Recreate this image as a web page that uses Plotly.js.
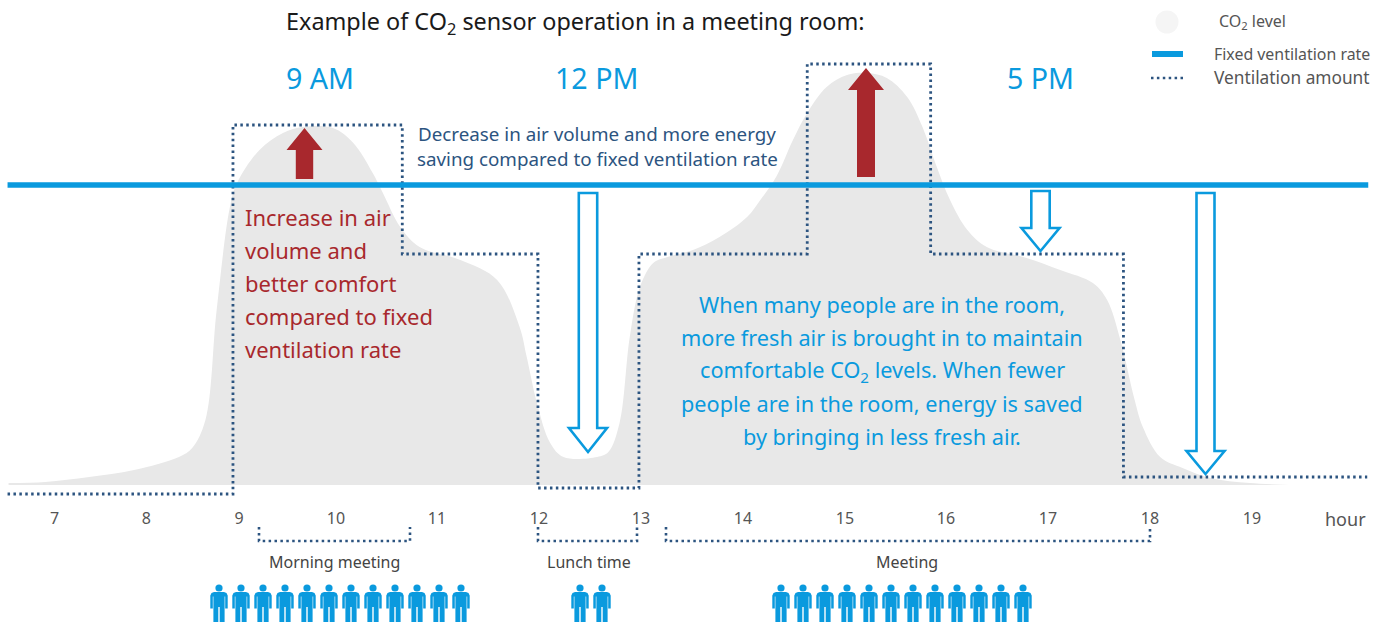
<!DOCTYPE html>
<html>
<head>
<meta charset="utf-8">
<script src="https://cdn.plot.ly/plotly-3.0.1.min.js"></script>
<style>html,body{margin:0;padding:0;background:#fff;overflow:hidden}#chart{width:1386px;height:622px}</style>
</head>
<body>
<div id="chart"></div>
<script>
// CO2 level curve
const co2Hours = [6.79,7.15,7.58,8.02,8.46,8.59,8.72,8.83,8.96,9.03,9.25,9.48,9.68,9.97,10.17,10.36,10.46,10.63,10.82,11.22,11.58,11.80,11.87,11.97,12.10,12.23,12.56,12.67,12.78,12.88,12.98,13.11,13.25,13.50,13.76,14.03,14.16,14.32,14.48,14.62,14.81,15.01,15.21,15.40,15.60,15.75,15.89,16.02,16.19,16.38,16.77,17.10,17.42,17.56,17.69,17.83,17.91,18.08,18.30,18.57,18.96,19.42];
const co2Level = [2,3,8,15,28,37,65,175,278,302,335,352,358,357,342,312,292,258,238,225,205,158,128,82,42,28,28,33,62,148,198,222,228,235,248,268,285,309,345,372,398,410,412,407,388,358,318,285,255,238,227,215,202,185,145,85,58,28,17,7,2,0];
// Ventilation amount (stepped)
const ventHours = [6.78,8.99,10.65,11.98,12.97,14.62,15.83,17.72,20.11];
const ventLevel = [-9,360,231,-3,231,421,231,8,8];
// Fixed ventilation rate
const fixedHours = [6.78,20.12];
const fixedLevel = [300,300];
// Axis
const tickPositions = [7.24,8.14,9.05,10.0,10.99,11.99,12.99,13.99,14.99,15.98,16.98,17.98,18.98];
const tickLabels = ['7','8','9','10','11','12','13','14','15','16','17','18','19'];
// Occupancy
const periodNames = ['Morning meeting','Lunch time','Meeting'];
const periodPeople = [12,2,12];
// Text
const titleText = 'Example of CO<sub>2</sub> sensor operation in a meeting room:';
const clockLabels = ['9 AM','12 PM','5 PM'];
const savingLines = ['Decrease in air volume and more energy','saving compared to fixed ventilation rate'];
const comfortLines = ['Increase in air','volume and','better comfort','compared to fixed','ventilation rate'];
const noteLines = ['When many people are in the room,','more fresh air is brought in to maintain','comfortable CO<sub>2</sub> levels. When fewer','people are in the room, energy is saved','by bringing in less fresh air.'];
const legendLabels = ['CO<sub>2</sub> level','Fixed ventilation rate','Ventilation amount'];

const FONT = '"Noto Sans", sans-serif';
const BLUE = '#0a9ade', NAVY = '#2c5480', RED = '#a8282d', GREY = '#e8e8e8';
const W = 1386, H = 622;
const px = v => v / W, py = v => 1 - v / H;
const DOT = '2.5px,3.4px';

const traces = [
  {x: co2Hours, y: co2Level, mode: 'lines', line: {shape: 'spline', smoothing: 1, width: 0}, fill: 'tozeroy', fillcolor: GREY, hoverinfo: 'skip'},
  {x: ventHours, y: ventLevel, mode: 'lines', line: {shape: 'hv', color: NAVY, width: 2.8, dash: DOT}, hoverinfo: 'skip'},
  {x: fixedHours, y: fixedLevel, mode: 'lines', line: {color: BLUE, width: 5.5}, hoverinfo: 'skip'}
];

const note = (text, x, y, size, color, anchor) => ({
  text, xref: 'paper', yref: 'paper', x: px(x), y: py(y), xanchor: anchor || 'center', yanchor: 'middle',
  showarrow: false, font: {family: FONT, size, color}
});
const annotations = [
  note(titleText, 284, 23, 23.4, '#1a1a1a', 'left'),
  note(clockLabels[0], 320, 78, 28.6, BLUE),
  note(clockLabels[1], 596, 78, 28.6, BLUE),
  note(clockLabels[2], 1040, 78, 28.6, BLUE),
  note('hour', 1345, 519, 18, '#555', 'center')
];
savingLines.forEach((t, i) => annotations.push(note(t, 597, 134 + i * 25, 18.8, NAVY)));
comfortLines.forEach((t, i) => annotations.push(note(t, 243, 217 + i * 33, 22, RED, 'left')));
noteLines.forEach((t, i) => annotations.push(note(t, 882, 304.5 + i * 33, 21.7, BLUE)));
annotations.push(note(legendLabels[0], 1217, 22, 16, '#555', 'left'));
annotations.push(note(legendLabels[1], 1212, 54, 15.9, '#555', 'left'));
annotations.push(note(legendLabels[2], 1212, 78, 17.3, '#555', 'left'));
[334, 589, 907].forEach((x, i) => annotations.push(note(periodNames[i], x, 562, 16, '#444')));

const pathOf = pts => pts.map((p, i) => (i ? 'L' : 'M') + px(p[0]) + ',' + py(p[1])).join(' ') + ' Z';
const openPath = pts => pts.map((p, i) => (i ? 'L' : 'M') + px(p[0]) + ',' + py(p[1])).join(' ');
const shape = (path, extra) => Object.assign({type: 'path', xref: 'paper', yref: 'paper', path}, extra);

function arrowPts(tipX, tipY, headY, headHalf, shaftHalf, tailY) {
  return [[tipX, tipY], [tipX + headHalf, headY], [tipX + shaftHalf, headY], [tipX + shaftHalf, tailY],
          [tipX - shaftHalf, tailY], [tipX - shaftHalf, headY], [tipX - headHalf, headY]];
}
const solid = {fillcolor: RED, line: {width: 0}};
const hollow = {fillcolor: '#ffffff', line: {color: BLUE, width: 2.6}};
const shapes = [
  shape(pathOf(arrowPts(304.5, 128, 150, 18, 8.7, 179)), solid),
  shape(pathOf(arrowPts(866, 68, 90, 18, 9, 177)), solid),
  shape(pathOf(arrowPts(588, 452, 428, 19, 9.2, 193)), hollow),
  shape(pathOf(arrowPts(1040.5, 251, 228, 19, 9.2, 191)), hollow),
  shape(pathOf(arrowPts(1205.5, 474, 451, 19, 9, 193)), hollow)
];
// Period brackets
const dotted = {fillcolor: 'rgba(0,0,0,0)', line: {color: NAVY, width: 2.6, dash: DOT}};
[[259, 410], [538, 637], [666, 1150]].forEach(b => {
  shapes.push(shape(openPath([[b[0], 527], [b[0], 541], [b[1], 541], [b[1], 527]]), dotted));
});
// Legend marks
shapes.push({type: 'circle', xref: 'paper', yref: 'paper', x0: px(1155.5), x1: px(1178.5), y0: py(33.5), y1: py(10.5), fillcolor: '#f5f5f5', line: {width: 0}});
shapes.push(shape(pathOf([[1152, 51], [1183, 51], [1183, 57], [1152, 57]]), {fillcolor: BLUE, line: {width: 0}}));
shapes.push(shape(openPath([[1151, 78], [1186, 78]]), {line: {color: NAVY, width: 2.6, dash: DOT}}));
// People
function addPerson(c) {
  shapes.push({type: 'circle', xref: 'paper', yref: 'paper', x0: px(c - 3.6), x1: px(c + 3.6), y0: py(591.6), y1: py(584.4), fillcolor: BLUE, line: {width: 0}});
  const body = [[c - 5, 592], [c + 5, 592], [c + 7.5, 593], [c + 8.7, 595.5], [c + 8.7, 608.5], [c + 6.2, 608.5], [c + 6.2, 596.5], [c + 5.6, 596.5],
    [c + 5.6, 622], [c + 0.7, 622], [c + 0.7, 607], [c - 0.7, 607], [c - 0.7, 622], [c - 5.6, 622], [c - 5.6, 596.5], [c - 6.2, 596.5], [c - 6.2, 608.5], [c - 8.7, 608.5], [c - 8.7, 595.5], [c - 7.5, 593]];
  shapes.push(shape(pathOf(body), {fillcolor: BLUE, line: {width: 0}}));
}
const peopleStart = [219, 580, 781];
periodPeople.forEach((n, i) => { for (let k = 0; k < n; k++) addPerson(peopleStart[i] + k * 22); });

const layout = {
  width: W, height: H, margin: {l: 0, r: 0, t: 0, b: 0},
  paper_bgcolor: '#fff', plot_bgcolor: '#fff', showlegend: false,
  xaxis: {range: [6.706, 20.294], tickmode: 'array', tickvals: tickPositions, ticktext: tickLabels,
    showgrid: false, zeroline: false, showline: false, ticks: '', anchor: 'free', position: 0.1855,
    tickfont: {family: FONT, size: 16, color: '#555'}, fixedrange: true},
  yaxis: {range: [-137, 485], visible: false, fixedrange: true},
  annotations, shapes
};
Plotly.newPlot('chart', traces, layout, {displayModeBar: false, staticPlot: true});
</script>
</body>
</html>
